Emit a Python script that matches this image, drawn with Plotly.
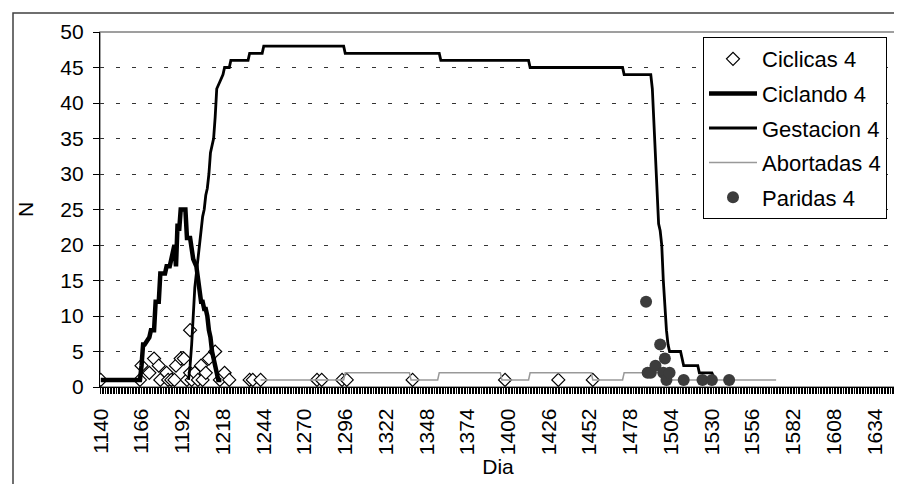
import plotly.graph_objects as go

# ---- data (day, N) ----
ciclicas_dia = [1140, 1165, 1166, 1171, 1174, 1177, 1178, 1182, 1183, 1185, 1187, 1188, 1191, 1193,
                1195, 1197, 1197, 1198, 1200, 1202, 1204, 1205, 1207, 1209, 1213, 1216, 1219, 1222,
                1235, 1237, 1242, 1278, 1281, 1294, 1297, 1339, 1398, 1432, 1454]
ciclicas_n = [1, 1, 3, 2, 4, 3, 1, 2, 1, 1, 1, 3, 4, 4,
              1, 2, 8, 1, 2, 1, 3, 1, 2, 4, 5, 1, 2, 1,
              1, 1, 1, 1, 1, 1, 1, 1, 1, 1, 1]

ciclando_dia = [1140, 1165, 1166, 1167, 1168, 1171, 1172, 1174, 1175, 1177, 1178, 1181, 1182, 1184,
                1185, 1186, 1187, 1188, 1189, 1190, 1191, 1194, 1195, 1197, 1198, 1199, 1201, 1202,
                1203, 1204, 1205, 1206, 1207, 1208, 1209, 1210, 1211, 1212, 1213, 1214, 1215, 1217]
ciclando_n = [1, 1, 3, 6, 6, 7, 8, 8, 12, 12, 16, 16, 17, 17,
              18, 19, 20, 17, 23, 22, 25, 25, 21, 21, 19, 18, 17, 15,
              14, 12, 12, 11, 11, 10, 8, 7, 5, 4, 3, 2, 1, 1]

gestacion_dia = [1196, 1197, 1198, 1199, 1200, 1201, 1202, 1203, 1204, 1205, 1206, 1207, 1208, 1209,
                 1210, 1211, 1212, 1213, 1214, 1216, 1218, 1219, 1222, 1223, 1234, 1235, 1243, 1244,
                 1295, 1296, 1356, 1357, 1413, 1414, 1473, 1474, 1491, 1492, 1493, 1494, 1495, 1496,
                 1497, 1498, 1499, 1500, 1501, 1502, 1503, 1510, 1512, 1521, 1522, 1530, 1532]
gestacion_n = [1, 3, 6, 10, 14, 16, 18, 20, 22, 24, 25, 27, 28, 30,
               33, 34, 35, 38, 42, 43, 44, 45, 45, 46, 46, 47, 47, 48,
               48, 47, 47, 46, 46, 45, 45, 44, 44, 42, 37, 31, 26, 23,
               22, 20, 15, 11, 8, 6, 5, 5, 3, 3, 2, 2, 1]

abortadas_dia = [1242, 1295, 1296, 1337, 1338, 1355, 1356, 1395, 1396, 1413, 1414, 1453, 1454,
                 1473, 1474, 1500, 1501, 1571]
abortadas_n = [1, 1, 2, 2, 1, 1, 2, 2, 1, 1, 2, 2, 1, 1, 2, 2, 1, 1]

paridas_dia = [1488, 1489, 1491, 1494, 1497, 1499, 1500, 1501, 1503, 1512, 1524, 1530, 1541]
paridas_n = [12, 2, 2, 3, 6, 2, 4, 1, 2, 1, 1, 1, 1]

tick_dias = list(range(1140, 1635, 26))

FONT = "Arial, Liberation Sans, sans-serif"

fig = go.Figure()
fig.add_trace(go.Scatter(x=ciclicas_dia, y=ciclicas_n, mode="markers", name="Ciclicas 4",
                         legendgroup="a",
                         marker=dict(symbol="diamond", size=10, color="white",
                                     line=dict(color="black", width=1.2))))
fig.add_trace(go.Scatter(x=ciclando_dia, y=ciclando_n, mode="lines", name="Ciclando 4",
                         legendgroup="b", line=dict(color="black", width=4.5)))
fig.add_trace(go.Scatter(x=gestacion_dia, y=gestacion_n, mode="lines", name="Gestacion 4",
                         legendgroup="c", line=dict(color="black", width=2.8)))
fig.add_trace(go.Scatter(x=abortadas_dia, y=abortadas_n, mode="lines", name="Abortadas 4",
                         legendgroup="d", line=dict(color="#999999", width=1.5)))
fig.add_trace(go.Scatter(x=paridas_dia, y=paridas_n, mode="markers", name="Paridas 4",
                         legendgroup="e",
                         marker=dict(symbol="circle", size=12, color="#3c3c3c")))

W, H = 902, 484
L, R, T, B = 92, 14, 24, 105
pw, ph = W - L - R, H - T - B

def px(x):
    return (x - L) / pw

def py(y):
    return (H - B - y) / ph

fig.update_layout(
    width=W, height=H,
    margin=dict(l=L, r=R, t=T, b=B, pad=0),
    paper_bgcolor="white", plot_bgcolor="white",
    font=dict(family=FONT, size=21, color="black"),
    showlegend=True,
    legend=dict(x=px(695), y=py(29), xanchor="left", yanchor="top",
                bgcolor="white", bordercolor="black", borderwidth=1,
                font=dict(size=22), itemwidth=48, tracegroupgap=3),
    xaxis=dict(range=[1139.5, 1647.5], tickmode="array", tickvals=tick_dias,
               ticktext=[str(t) for t in tick_dias], tickangle=-90,
               ticks="outside", ticklen=6, tickcolor="black", tickwidth=1,
               ticklabelstandoff=6,
               minor=dict(dtick=1, tick0=1140, ticks="outside", ticklen=6,
                          tickcolor="black", tickwidth=1, showgrid=False),
               showline=True, linecolor="black", linewidth=1.2,
               showgrid=False, zeroline=False,
               title=dict(text="Dia", standoff=4, font=dict(size=21)),
               tickfont=dict(size=21)),
    yaxis=dict(range=[0, 50], dtick=5, ticks="outside", ticklen=6, tickcolor="black",
               ticklabelstandoff=5,
               showline=True, linecolor="black", linewidth=1.2,
               showgrid=True, gridcolor="#333333", gridwidth=1, griddash="4px,12px",
               zeroline=False,
               title=dict(text="N", standoff=20, font=dict(size=21)),
               tickfont=dict(size=21)),
    shapes=[
        dict(type="rect", xref="paper", yref="paper", x0=0, x1=1, y0=0, y1=1,
             line=dict(color="#808080", width=1.5), layer="below"),
        dict(type="rect", xref="paper", yref="paper",
             x0=px(5), x1=px(897), y0=py(479), y1=py(5),
             line=dict(color="#404040", width=1.5)),
    ],
)

fig.write_html("out.html")
